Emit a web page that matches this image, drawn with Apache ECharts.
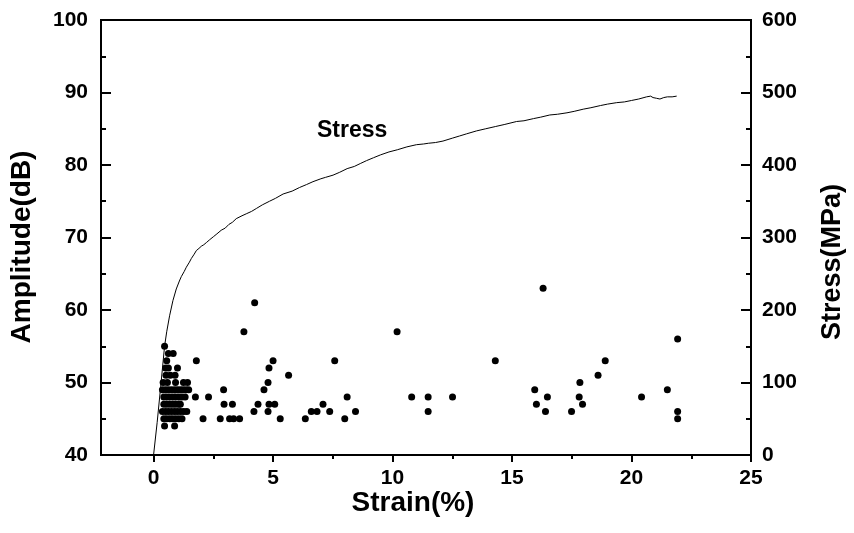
<!DOCTYPE html>
<html>
<head>
<meta charset="utf-8">
<title>Amplitude and stress vs strain</title>
<script src="https://cdn.jsdelivr.net/npm/echarts@6/dist/echarts.min.js"></script>
<style>
  html, body { margin: 0; padding: 0; background: #fff; }
  #chart { width: 854px; height: 533px; }
</style>
</head>
<body>
<div id="chart"></div>
<script>
// Tensile stress curve (strain %, stress MPa)
const stressStrain = [0, 0.15, 0.3, 0.46, 0.55, 0.67, 0.81, 0.95, 1.08, 1.16, 1.28, 1.37, 1.5, 1.58, 1.7, 1.79, 1.9, 2.0, 2.1, 2.21, 2.35, 2.5, 2.65, 2.83, 3.0, 3.15, 3.3, 3.46, 3.7, 3.9, 4.1, 4.3, 4.55, 4.85, 5.1, 5.42, 5.8, 6.11, 6.4, 6.67, 7.0, 7.2, 7.51, 7.79, 8.1, 8.4, 8.65, 8.91, 9.2, 9.5, 9.85, 10.2, 10.6, 11.0, 11.3, 11.5, 11.8, 12.11, 12.5, 12.8, 13.1, 13.51, 13.9, 14.3, 14.7, 15.19, 15.5, 15.9, 16.2, 16.58, 16.9, 17.3, 17.6, 17.98, 18.3, 18.7, 19.0, 19.38, 19.7, 20.0, 20.3, 20.63, 20.8, 20.9, 21.05, 21.19, 21.35, 21.5, 21.7, 21.89];
const stressMPa    = [0, 45, 95, 150, 170, 192, 213, 229, 240, 246, 253, 259, 266, 271, 277, 282, 285, 288, 290, 293, 297, 301, 305, 310, 313, 318, 321, 326, 330, 333, 336, 340, 345, 350, 354, 360, 364, 369, 373, 377, 381, 383, 386, 390, 395, 398, 402, 406, 410, 414, 418, 421, 425, 428, 429, 430, 431, 433, 437, 440, 443, 447, 450, 453, 456, 460, 461, 464, 466, 469, 470, 472, 474, 477, 479, 482, 484, 486, 487, 489, 491, 494, 495, 493, 492, 491, 493, 494, 494, 495];

// Acoustic emission hits (strain %, amplitude dB)
const aeStrain = [
  0.46,
  0.62, 0.82,
  0.55, 1.79, 5.0, 7.58, 14.3, 18.9,
  0.5, 0.62, 1.0, 4.83,
  0.52, 0.7, 0.9, 5.65, 18.6,
  0.4, 0.58, 0.92, 1.25, 1.42, 4.79, 17.84,
  0.37, 0.5, 0.62, 0.75, 0.88, 1.0, 1.12, 1.24, 1.36, 1.47, 2.93, 4.62, 15.95, 21.5,
  0.43, 0.55, 0.67, 0.8, 0.92, 1.05, 1.18, 1.32, 1.75, 2.3, 8.1, 10.8, 11.49, 12.51, 16.48, 17.81, 20.42,
  0.43, 0.55, 0.68, 0.8, 0.92, 1.05, 1.12, 2.95, 3.3, 4.37, 4.83, 5.07, 7.09, 16.02, 17.95,
  0.37, 0.5, 0.62, 0.75, 0.88, 1.0, 1.13, 1.26, 1.39, 4.2, 4.79, 6.6, 6.84, 7.37, 8.45, 11.49, 16.4, 17.49, 21.93,
  0.43, 0.55, 0.68, 0.8, 0.93, 1.06, 1.19, 2.07, 2.79, 3.18, 3.35, 3.6, 5.3, 6.35, 8.0, 21.93,
  0.46, 0.88,
  4.23, 3.78, 10.19, 16.3, 21.93
];
const aeAmplitude = [
  55,
  54, 54,
  53, 53, 53, 53, 53, 53,
  52, 52, 52, 52,
  51, 51, 51, 51, 51,
  50, 50, 50, 50, 50, 50, 50,
  49, 49, 49, 49, 49, 49, 49, 49, 49, 49, 49, 49, 49, 49,
  48, 48, 48, 48, 48, 48, 48, 48, 48, 48, 48, 48, 48, 48, 48, 48, 48,
  47, 47, 47, 47, 47, 47, 47, 47, 47, 47, 47, 47, 47, 47, 47,
  46, 46, 46, 46, 46, 46, 46, 46, 46, 46, 46, 46, 46, 46, 46, 46, 46, 46, 46,
  45, 45, 45, 45, 45, 45, 45, 45, 45, 45, 45, 45, 45, 45, 45, 45,
  44, 44,
  61, 57, 57, 63, 56
];

// Axis ticks
const strainTicks = [0, 5, 10, 15, 20, 25];
const strainMinorTicks = [2.5, 7.5, 12.5, 17.5, 22.5];

const FONT = '"Liberation Sans", Arial, Helvetica, sans-serif';
const chart = echarts.init(document.getElementById('chart'));

const tickLabel = { fontFamily: FONT, fontWeight: 'bold', fontSize: 21, color: '#000' };
const axisLine2 = { show: true, onZero: false, lineStyle: { color: '#000', width: 2 } };
const tickStyle = { color: '#000', width: 2 };

chart.setOption({
  animation: false,
  backgroundColor: '#fff',
  grid: { left: 101, right: 103, top: 20, bottom: 78, show: true, borderColor: '#000', borderWidth: 2 },
  xAxis: [
    {
      type: 'value', min: -2.2, max: 25, position: 'bottom',
      axisLine: axisLine2,
      axisTick: { show: true, customValues: strainTicks, length: 7, lineStyle: tickStyle },
      axisLabel: Object.assign({ customValues: strainTicks, margin: 13 }, tickLabel),
      splitLine: { show: false }
    },
    {
      type: 'value', min: -2.2, max: 25, position: 'bottom',
      axisLine: { show: false },
      axisTick: { show: true, customValues: strainMinorTicks, length: 4, lineStyle: tickStyle },
      axisLabel: { show: false },
      splitLine: { show: false }
    }
  ],
  yAxis: [
    {
      type: 'value', min: 40, max: 100, interval: 10, position: 'left',
      axisLine: axisLine2,
      axisTick: { show: true, inside: true, length: 10, lineStyle: tickStyle },
      minorTick: { show: true, splitNumber: 2, length: 5, lineStyle: tickStyle },
      axisLabel: Object.assign({ margin: 13 }, tickLabel),
      splitLine: { show: false }
    },
    {
      type: 'value', min: 0, max: 600, interval: 100, position: 'right',
      axisLine: axisLine2,
      axisTick: { show: true, inside: true, length: 10, lineStyle: tickStyle },
      minorTick: { show: true, splitNumber: 2, length: 5, lineStyle: tickStyle },
      axisLabel: Object.assign({ margin: 11 }, tickLabel),
      splitLine: { show: false }
    }
  ],
  graphic: [
    { type: 'text', x: 413, y: 503,
      style: { text: 'Strain(%)', font: 'bold 28px ' + FONT, fill: '#000', align: 'center', verticalAlign: 'middle' } },
    { type: 'text', x: 22, y: 247, rotation: Math.PI / 2,
      style: { text: 'Amplitude(dB)', font: 'bold 28px ' + FONT, fill: '#000', align: 'center', verticalAlign: 'middle' } },
    { type: 'text', x: 833, y: 262, rotation: Math.PI / 2,
      style: { text: 'Stress(MPa)', font: 'bold 27px ' + FONT, fill: '#000', align: 'center', verticalAlign: 'middle' } },
    { type: 'text', x: 317, y: 131,
      style: { text: 'Stress', font: 'bold 23px ' + FONT, fill: '#000', verticalAlign: 'middle' } }
  ],
  series: [
    {
      name: 'Stress', type: 'line', xAxisIndex: 0, yAxisIndex: 1,
      data: stressStrain.map((s, i) => [s, stressMPa[i]]),
      showSymbol: false, symbol: 'none', smooth: false,
      lineStyle: { color: '#000', width: 1 }, z: 3
    },
    {
      name: 'Amplitude', type: 'scatter', xAxisIndex: 0, yAxisIndex: 0,
      data: aeStrain.map((s, i) => [s, aeAmplitude[i]]),
      symbol: 'circle', symbolSize: 7,
      itemStyle: { color: '#000', opacity: 1 }, z: 4
    }
  ]
});
</script>
</body>
</html>
